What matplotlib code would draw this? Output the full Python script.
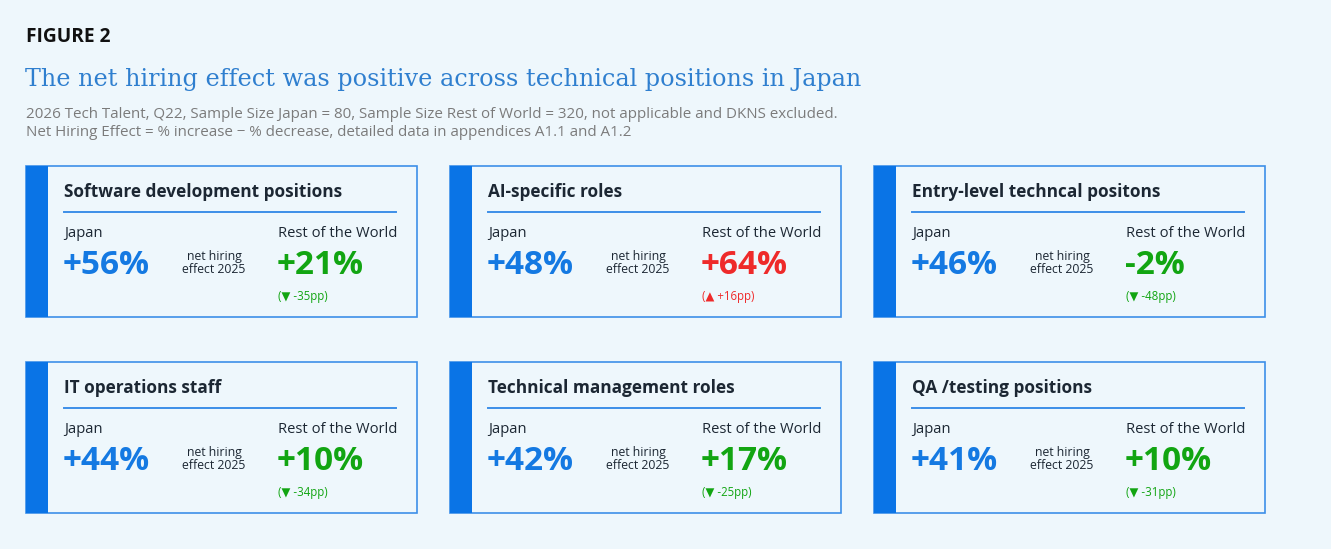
import matplotlib.pyplot as plt
from matplotlib.patches import Rectangle

# --- data ---
roles = [
    "Software development positions",
    "AI-specific roles",
    "Entry-level techncal positons",
    "IT operations staff",
    "Technical management roles",
    "QA /testing positions",
]
japan_vals = [56, 48, 46, 44, 42, 41]
row_vals = [21, 64, -2, 10, 17, 10]
row_delta_pp = [-35, 16, -48, -34, -25, -31]

# --- colours ---
bg = "#eef7fc"
stripe_col = "#0a74e6"
border_col = "#3d8fe8"
title_col = "#2f7fcf"
jp_col = "#1479e2"
green = "#12a512"
red = "#ee2a2a"
dark = "#1c2733"
grey = "#7b7b7b"

sans = ["Open Sans", "DejaVu Sans"]

W, H = 1331, 549
fig = plt.figure(figsize=(W / 100, H / 100), dpi=100, facecolor=bg)
ax = fig.add_axes([0, 0, 1, 1])
ax.set_xlim(0, W)
ax.set_ylim(H, 0)
ax.axis("off")

ax.text(26, 42, "FIGURE 2", family=sans, fontsize=13.8, fontweight="bold",
        color="#111111", va="baseline")
ax.text(25, 86, "The net hiring effect was positive across technical positions in Japan",
        family="DejaVu Serif", fontsize=17.2, color=title_col, va="baseline")
ax.text(26, 118, "2026 Tech Talent, Q22, Sample Size Japan = 80, Sample Size Rest of World = 320, "
        "not applicable and DKNS excluded.", family=sans, fontsize=10.9, color=grey, va="baseline")
ax.text(26, 136, "Net Hiring Effect = % increase \u2212 % decrease, detailed data in appendices A1.1 and A1.2",
        family=sans, fontsize=10.9, color=grey, va="baseline")

col_x = [26, 450, 874]
row_y = [166, 362]
cw, ch = 391, 151

for i, role in enumerate(roles):
    x0 = col_x[i % 3]
    y0 = row_y[i // 3]
    ax.add_patch(Rectangle((x0, y0), cw, ch, facecolor="#eef7fc",
                           edgecolor=border_col, linewidth=1.2, zorder=1))
    ax.add_patch(Rectangle((x0, y0), 22, ch, facecolor=stripe_col,
                           edgecolor="none", zorder=2))
    ax.text(x0 + 38, y0 + 31, role, family=sans, fontsize=12.4, fontweight="bold",
            color=dark, va="baseline")
    ax.plot([x0 + 38, x0 + 370], [y0 + 46, y0 + 46], color=border_col, lw=1.4)

    ax.text(x0 + 38, y0 + 71, "Japan", family=sans, fontsize=10.6, color=dark, va="baseline")
    ax.text(x0 + 252, y0 + 71, "Rest of the World", family=sans, fontsize=10.6,
            color=dark, va="baseline")

    ax.text(x0 + 37, y0 + 108, f"+{japan_vals[i]}%", family=sans, fontsize=24,
            fontweight="bold", color=jp_col, va="baseline")
    ax.text(x0 + 188, y0 + 94, "net hiring", family=sans, fontsize=8.8,
            color=dark, ha="center", va="baseline")
    ax.text(x0 + 188, y0 + 107, "effect 2025", family=sans, fontsize=8.8,
            color=dark, ha="center", va="baseline")

    up = row_delta_pp[i] > 0
    vcol = red if up else green
    ax.text(x0 + 251, y0 + 108, f"{row_vals[i]:+d}%", family=sans, fontsize=24,
            fontweight="bold", color=vcol, va="baseline")
    arrow = "\u25B2" if up else "\u25BC"
    sign = "+" if up else "-"
    ax.text(x0 + 252, y0 + 134, f"({arrow} {sign}{abs(row_delta_pp[i])}pp)",
            family=sans, fontsize=8.3, color=vcol, va="baseline")

fig.savefig("out.png", dpi=100, facecolor=bg)
